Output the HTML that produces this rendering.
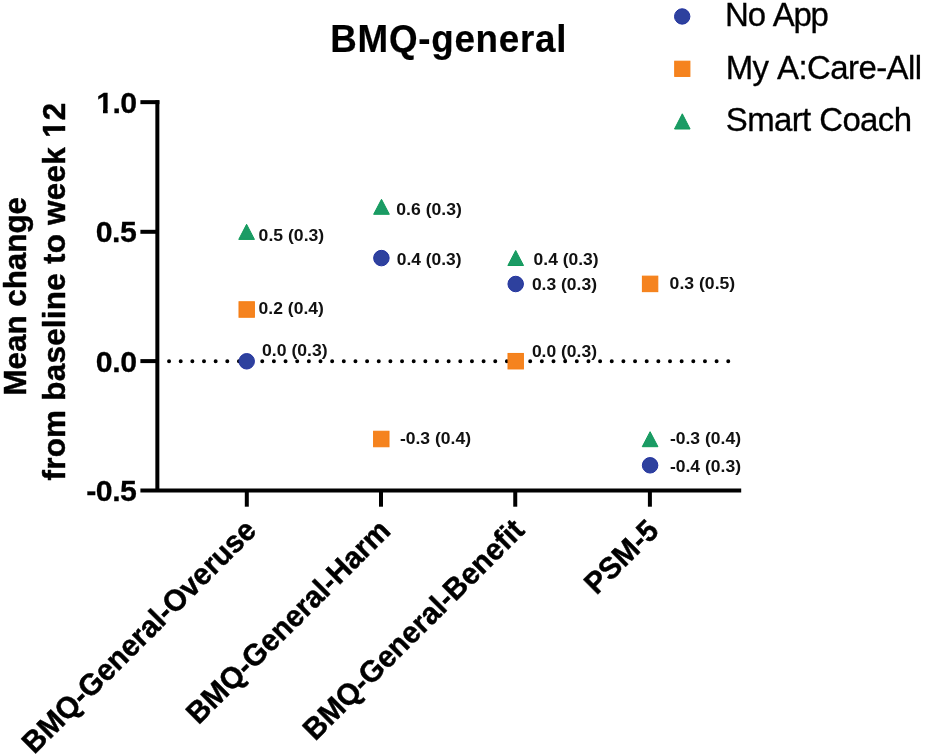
<!DOCTYPE html>
<html lang="en">
<head>
<meta charset="utf-8">
<title>BMQ-general</title>
<style>
html,body{margin:0;padding:0;background:#fff;}
body{width:925px;height:756px;overflow:hidden;}
svg{display:block;}
text{font-family:"Liberation Sans",Arial,sans-serif;fill:#000;font-kerning:none;}
.b{font-weight:bold;stroke:#000;stroke-width:0.45px;stroke-linejoin:round;}
.l{font-weight:bold;fill:#111;}
</style>
</head>
<body>
<svg width="925" height="756" viewBox="0 0 925 756">
<rect width="925" height="756" fill="#fff"/>
<!-- title -->
<text class="b" font-size="36.8" letter-spacing="0.726" transform="translate(330.24,51.5) scale(1.0,1.035)" style="stroke-width:0.2px">BMQ-general</text>
<!-- legend -->
<circle cx="682.2" cy="16.45" r="7.70" fill="#2e419e" stroke="#2333a0" stroke-width="1"/>
<rect x="674.70" y="61.20" width="15.20" height="15.20" fill="#f5831f" stroke="#f57d12" stroke-width="1"/>
<polygon points="682.3,113.80 690.10,129.00 674.50,129.00" fill="#1b9b65" stroke="#109a5a" stroke-width="1" stroke-linejoin="miter"/>
<text font-size="33.0" letter-spacing="-1.255" transform="translate(725.09,26.4) scale(1.0,1.015)" stroke="#000" stroke-width="0.3">No App</text>
<text font-size="33.0" letter-spacing="-0.593" transform="translate(725.69,78.65) scale(1.0,1.015)" stroke="#000" stroke-width="0.3">My A:Care-All</text>
<text font-size="33.0" letter-spacing="-0.623" transform="translate(725.80,131.1) scale(1.0,1.015)" stroke="#000" stroke-width="0.3">Smart Coach</text>
<!-- y axis title -->
<text class="b" font-size="31.4" letter-spacing="-0.034" transform="translate(26.2,393.4) rotate(-90) translate(-2.10,0) scale(1.0,1.02)">Mean change</text>
<g transform="translate(65.1,480.0) rotate(-90) translate(-0.54,0) scale(1.0,1.02)"><text class="b" font-size="31.4" letter-spacing="0.265">from baseline to week 12</text><rect x="343.46" y="-4.13" width="6.23" height="5.85" fill="#fff"/><rect x="354.48" y="-4.13" width="5.83" height="5.85" fill="#fff"/></g>
<!-- axes -->
<g stroke="#000" stroke-width="4" fill="none">
<path d="M157.35,100.15V491"/>
<path d="M140.4,102.15H159.4"/>
<path d="M140.4,231.8H157"/>
<path d="M140.4,361.1H157"/>
<path d="M140.4,490.6H741.2"/>
<path d="M246.8,490.6V506.7"/>
<path d="M381.0,490.6V506.7"/>
<path d="M515.25,490.6V506.7"/>
<path d="M649.9,490.6V506.7"/>
</g>
<path d="M169.05,361.3H729" stroke="#000" stroke-width="4" stroke-linecap="round" stroke-dasharray="0 11.65" fill="none"/>
<!-- y tick labels -->
<g transform="translate(96.19,112.7) scale(1.063,1.035)"><text class="b" font-size="28.5" letter-spacing="-0.548" style="stroke-width:0.25px">1.0</text><rect x="0.67" y="-3.83" width="5.74" height="5.56" fill="#fff"/><rect x="10.81" y="-3.83" width="5.37" height="5.56" fill="#fff"/></g>
<text class="b" font-size="28.5" letter-spacing="-0.411" transform="translate(95.70,242.2) scale(1.063,1.035)" style="stroke-width:0.25px">0.5</text>
<text class="b" font-size="28.5" letter-spacing="-0.317" transform="translate(95.70,371.6) scale(1.063,1.035)" style="stroke-width:0.25px">0.0</text>
<text class="b" font-size="28.5" letter-spacing="-0.463" transform="translate(86.22,501.1) scale(1.063,1.035)" style="stroke-width:0.25px">-0.5</text>
<!-- x tick labels -->
<text class="b" font-size="29.45" letter-spacing="0.0" transform="translate(257.4,532.8) scale(1.0,1) rotate(-44.9) translate(-314.86,0) scale(1,1.03)">BMQ-General-Overuse</text>
<text class="b" font-size="29.45" letter-spacing="0.0" transform="translate(390.8,533.8) scale(1.0,1) rotate(-44.9) translate(-271.46,0) scale(1,1.03)">BMQ-General-Harm</text>
<text class="b" font-size="29.45" letter-spacing="0.0" transform="translate(525.9,531.9) scale(1.0,1) rotate(-44.9) translate(-297.45,0) scale(1,1.03)">BMQ-General-Benefit</text>
<text class="b" font-size="29.45" letter-spacing="0.0" transform="translate(659.7,532.9) scale(1.0,1) rotate(-44.9) translate(-89.18,0) scale(1,1.03)">PSM-5</text>
<!-- markers -->
<polygon points="246.6,224.30 254.45,239.40 238.75,239.40" fill="#1b9b65" stroke="#109a5a" stroke-width="1" stroke-linejoin="miter"/>
<rect x="239.00" y="301.75" width="15.40" height="15.50" fill="#f5831f" stroke="#f57d12" stroke-width="1"/>
<circle cx="246.7" cy="361.3" r="7.75" fill="#2e419e" stroke="#2333a0" stroke-width="1"/>
<polygon points="381.5,199.30 389.35,214.30 373.65,214.30" fill="#1b9b65" stroke="#109a5a" stroke-width="1" stroke-linejoin="miter"/>
<circle cx="381.4" cy="258.1" r="7.75" fill="#2e419e" stroke="#2333a0" stroke-width="1"/>
<rect x="373.60" y="431.25" width="15.40" height="15.50" fill="#f5831f" stroke="#f57d12" stroke-width="1"/>
<polygon points="515.7,250.50 523.55,265.50 507.85,265.50" fill="#1b9b65" stroke="#109a5a" stroke-width="1" stroke-linejoin="miter"/>
<circle cx="515.7" cy="284" r="7.75" fill="#2e419e" stroke="#2333a0" stroke-width="1"/>
<rect x="508.00" y="353.45" width="15.40" height="15.50" fill="#f5831f" stroke="#f57d12" stroke-width="1"/>
<rect x="642.40" y="276.15" width="15.40" height="15.50" fill="#f5831f" stroke="#f57d12" stroke-width="1"/>
<polygon points="650.1,431.70 657.95,446.70 642.25,446.70" fill="#1b9b65" stroke="#109a5a" stroke-width="1" stroke-linejoin="miter"/>
<circle cx="650.1" cy="465.3" r="7.75" fill="#2e419e" stroke="#2333a0" stroke-width="1"/>
<!-- value labels -->
<g class="lab">
<text class="l" font-size="16.4" transform="translate(258.60,240.5) scale(1.0753,1.0)">0.5 (0.3)</text>
<text class="l" font-size="16.4" transform="translate(258.61,314.1) scale(1.0686,1.0)">0.2 (0.4)</text>
<text class="l" font-size="16.4" transform="translate(262.00,356.3) scale(1.0753,1.0)">0.0 (0.3)</text>
<text class="l" font-size="16.4" transform="translate(396.30,215.2) scale(1.0753,1.0)">0.6 (0.3)</text>
<text class="l" font-size="16.4" transform="translate(396.71,265.3) scale(1.0636,1.0)">0.4 (0.3)</text>
<text class="l" font-size="16.4" transform="translate(399.91,444.1) scale(1.0695,1.0)">-0.3 (0.4)</text>
<text class="l" font-size="16.4" transform="translate(533.61,265.3) scale(1.0653,1.0)">0.4 (0.3)</text>
<text class="l" font-size="16.4" transform="translate(531.91,290.0) scale(1.0653,1.0)">0.3 (0.3)</text>
<text class="l" font-size="16.4" transform="translate(531.91,356.9) scale(1.0653,1.0)">0.0 (0.3)</text>
<text class="l" font-size="16.4" transform="translate(669.60,289.3) scale(1.0753,1.0)">0.3 (0.5)</text>
<text class="l" font-size="16.4" transform="translate(669.91,444.1) scale(1.0695,1.0)">-0.3 (0.4)</text>
<text class="l" font-size="16.4" transform="translate(669.91,472.3) scale(1.0695,1.0)">-0.4 (0.3)</text>
</g>
</svg>
</body>
</html>
